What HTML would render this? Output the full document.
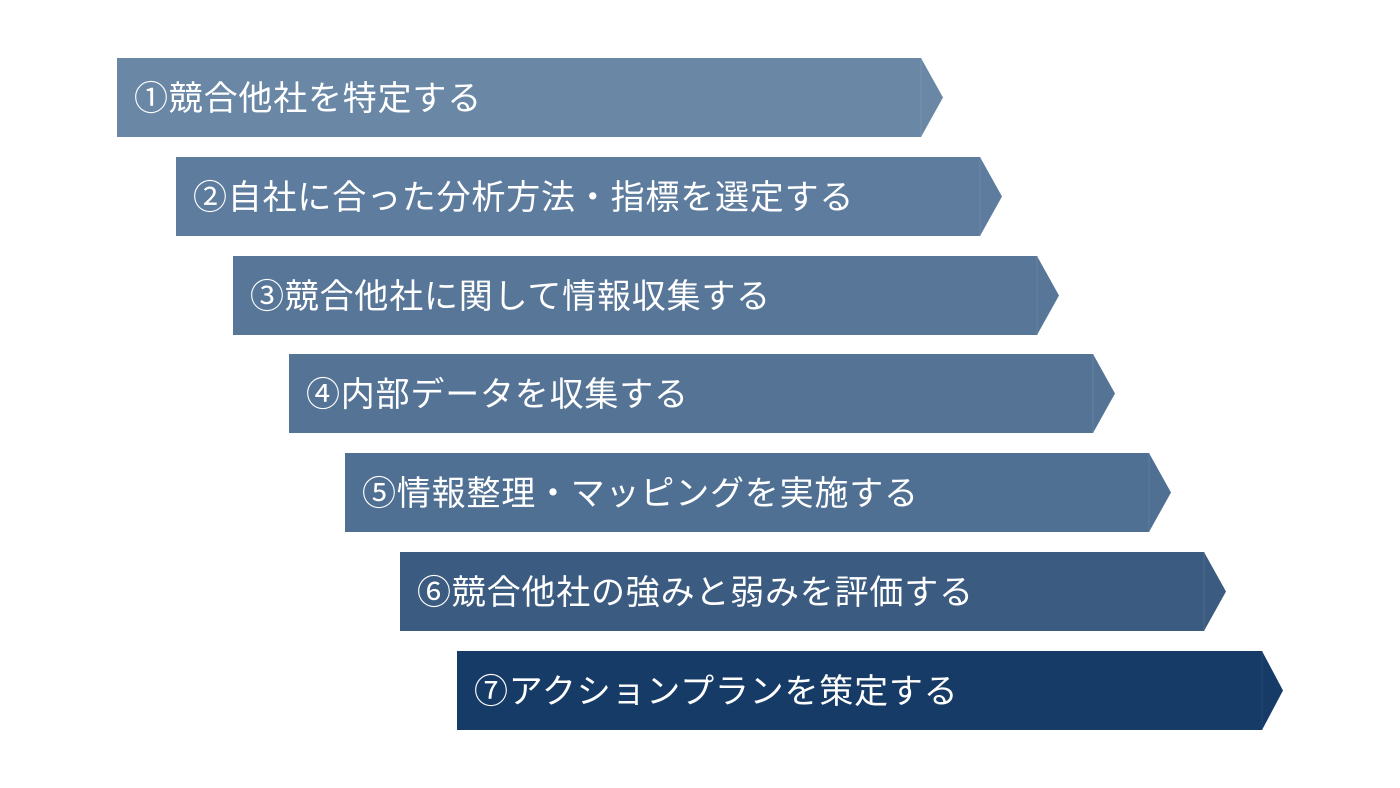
<!DOCTYPE html>
<html><head><meta charset="utf-8"><style>
body{margin:0;width:1400px;height:788px;background:#fff;overflow:hidden;position:relative;font-family:"Liberation Sans","Noto Sans CJK JP",sans-serif}
.b{position:absolute;height:79px}
.b svg{position:absolute;left:0;top:0}
.b span{position:absolute;left:17px;top:2px;line-height:79px;color:#fff;font-size:34px;letter-spacing:0.8px;white-space:nowrap}
</style></head><body>
<div class="b" style="left:117px;top:58px"><svg width="830" height="79"><polygon points="0,0 804,0 826,39.5 804,79 0,79" fill="#6a87a6"/><line x1="804" y1="0" x2="804" y2="79" stroke="#7793b0" stroke-width="1"/></svg><span>①競合他社を特定する</span></div>
<div class="b" style="left:176px;top:157px"><svg width="830" height="79"><polygon points="0,0 804,0 826,39.5 804,79 0,79" fill="#5e7c9e"/><line x1="804" y1="0" x2="804" y2="79" stroke="#6c89a9" stroke-width="1"/></svg><span>②自社に合った分析方法・指標を選定する</span></div>
<div class="b" style="left:233px;top:256px"><svg width="830" height="79"><polygon points="0,0 804,0 826,39.5 804,79 0,79" fill="#587698"/><line x1="804" y1="0" x2="804" y2="79" stroke="#6683a3" stroke-width="1"/></svg><span>③競合他社に関して情報収集する</span></div>
<div class="b" style="left:289px;top:354px"><svg width="830" height="79"><polygon points="0,0 804,0 826,39.5 804,79 0,79" fill="#557495"/><line x1="804" y1="0" x2="804" y2="79" stroke="#6382a2" stroke-width="1"/></svg><span>④内部データを収集する</span></div>
<div class="b" style="left:345px;top:453px"><svg width="830" height="79"><polygon points="0,0 804,0 826,39.5 804,79 0,79" fill="#4f6f93"/><line x1="804" y1="0" x2="804" y2="79" stroke="#5d7c9f" stroke-width="1"/></svg><span>⑤情報整理・マッピングを実施する</span></div>
<div class="b" style="left:400px;top:552px"><svg width="830" height="79"><polygon points="0,0 804,0 826,39.5 804,79 0,79" fill="#3c5b80"/><line x1="804" y1="0" x2="804" y2="79" stroke="#4a698d" stroke-width="1"/></svg><span>⑥競合他社の強みと弱みを評価する</span></div>
<div class="b" style="left:457px;top:651px"><svg width="830" height="79"><polygon points="0,0 805,0 826,39.5 805,79 0,79" fill="#173b67"/><line x1="805" y1="0" x2="805" y2="79" stroke="#264a75" stroke-width="1"/></svg><span>⑦アクションプランを策定する</span></div>
</body></html>
